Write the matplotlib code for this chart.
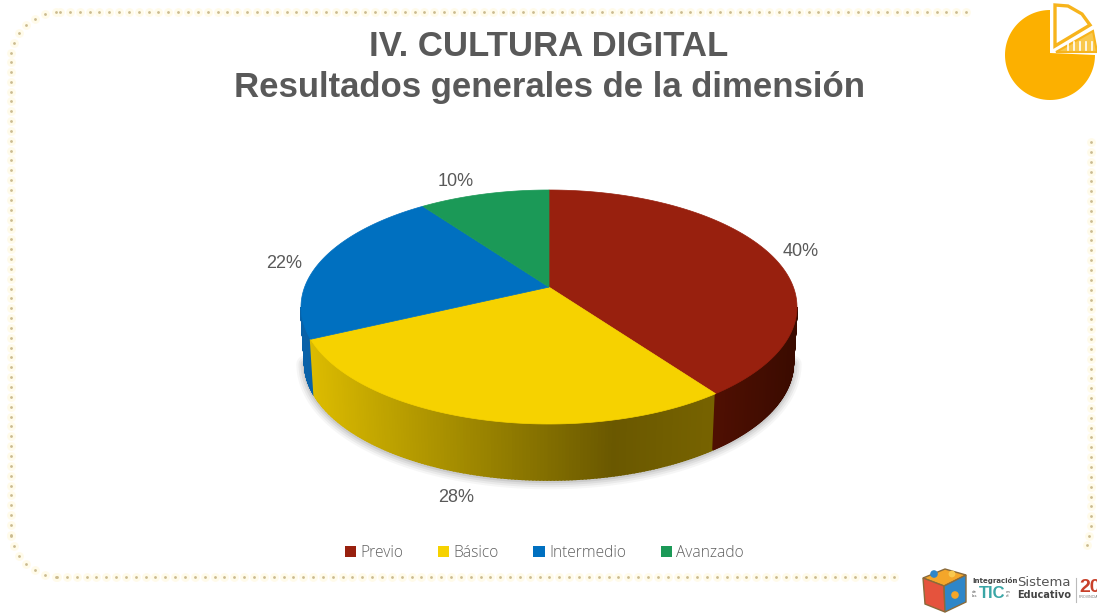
import matplotlib

matplotlib.use('Agg')
import matplotlib.pyplot as plt
from matplotlib.patches import Patch, Polygon
from matplotlib.colors import to_rgb
import numpy as np

categories = ['Previo', 'Básico', 'Intermedio', 'Avanzado']
values = [40, 28, 22, 10]

title_lines = ['IV. CULTURA DIGITAL', 'Resultados generales de la dimensión']

top_colors = ['#98200e', '#f6d200', '#0070c0', '#1b9957']
# colours of the side wall, read left to right
rim_colors = {
    0: ['#4f0f02', '#3a0b00'],
    1: ['#dcbb00', '#b59b00', '#8f7a00', '#6a5800', '#776300'],
    2: ['#0a62a8', '#0a62a8'],
    3: ['#14703f', '#14703f'],
}

# layout of the pie, in pixels of the slide
cx, cy = 549, 307
rx, ry = 248, 117
depth = 56
persp = 0.17  # the apex sits above the ellipse centre

fig = plt.figure(figsize=(10.97, 6.14), dpi=100)
ax = fig.add_axes([0, 0, 1, 1])
ax.set_xlim(0, 1097)
ax.set_ylim(614, 0)
ax.axis('off')


def to_disc(deg):
    # clockwise from the top, pushed through the perspective
    a = np.radians(deg)
    u, v = np.sin(a), np.cos(a)
    k = np.sqrt(1 - persp ** 2)
    return u * k / (1 + persp * v), (v + persp) / (1 + persp * v)


def top_xy(deg):
    u, v = to_disc(deg)
    return cx + rx * u, cy - ry * v


def ellipse_phi(deg):
    u, v = to_disc(deg)
    return np.degrees(np.arctan2(u, v)) % 360


def low_xy(phi):
    a = np.radians(phi)
    return cx + 0.985 * rx * np.sin(a), cy + depth - ry * np.cos(a)


def ramp(colors, f):
    colors = np.array([to_rgb(c) for c in colors])
    pos = np.linspace(0, 1, len(colors))
    return [np.interp(f, pos, colors[:, i]) for i in range(3)]


# soft shadow under the wall
phi_low = np.linspace(90, 270, 120)
sx, sy = low_xy(phi_low)
for w, al in zip([12, 9, 6, 3], [0.05, 0.07, 0.09, 0.12]):
    ax.plot(sx, sy + 1, color='#555555', lw=w, alpha=al, solid_capstyle='round', zorder=1)

cum = np.concatenate([[0], np.cumsum(values)]) * 360.0 / sum(values)

# side wall, only the part facing the viewer
for i in range(len(values)):
    p0, p1 = ellipse_phi(cum[i]), ellipse_phi(cum[i + 1])
    if i == len(values) - 1:
        p1 = 360
    lo, hi = max(p0, 90), min(p1, 270)
    if hi <= lo:
        continue
    steps = np.linspace(lo, hi, 140)
    xs = cx + rx * np.sin(np.radians(steps))
    for j in range(len(steps) - 1):
        ta = np.radians(steps[j:j + 2])
        x_top = cx + rx * np.sin(ta)
        y_top = cy - ry * np.cos(ta)
        x_low, y_low = low_xy(steps[j:j + 2])
        f = (xs[j] - xs.min()) / (xs.max() - xs.min())
        col = ramp(rim_colors[i], f)
        ax.fill([x_top[0], x_top[1], x_low[1], x_low[0]],
                [y_top[0], y_top[1], y_low[1], y_low[0]],
                fc=col, ec=col, lw=1.2, zorder=2 + 0.001 * j)

# top face
apex = (cx, cy - ry * persp)
for i in range(len(values)):
    px, py = top_xy(np.linspace(cum[i], cum[i + 1], 120))
    pts = [apex] + list(zip(px, py))
    ax.add_patch(Polygon(pts, closed=True, fc=top_colors[i], ec=top_colors[i],
                         lw=0.5, zorder=3))

# data labels
label_xy = [(801, 252), (456, 497), (284, 263), (456, 182)]
for v, (lx, ly) in zip(values, label_xy):
    ax.text(lx, ly, f'{v}%', ha='center', va='center', fontsize=13,
            family='Liberation Sans', color='#595959', zorder=5)

# title
ax.text(549, 47, title_lines[0], ha='center', va='center', fontsize=25,
        family='Liberation Sans', weight='bold', color='#595959')
ax.text(550, 87, title_lines[1], ha='center', va='center', fontsize=25,
        family='Liberation Sans', weight='bold', color='#595959')

# legend
handles = [Patch(fc=c, ec='none', label=n) for c, n in zip(top_colors, categories)]
ax.legend(handles=handles, ncol=4, frameon=False, loc='center',
          bbox_to_anchor=(544.5 / 1097, 1 - 553 / 614),
          prop={'family': 'Open Sans', 'size': 11.2, 'weight': 'light'},
          labelcolor='#5f5f5f', handlelength=0.72, handleheight=0.72,
          handletextpad=0.3, columnspacing=2.2)


# dotted frame
def dots(xs, ys):
    ax.scatter(xs, ys, s=40, color='#fffbea', lw=0, zorder=0)
    ax.scatter(xs, ys, s=4, color='#cbbb8f', lw=0, zorder=1)


corner = 50
xx = np.arange(60, 968, 9.85)
dots(xx, np.full(len(xx), 12))
ang = np.radians(np.arange(10, 90, 12.5))
dots(60 - corner * np.cos(ang), 62 - corner * np.sin(ang))
yy = np.arange(62, 535, 9.85)
dots(np.full(len(yy), 10.5), yy)
dots(60 - corner * np.cos(ang), 527 + corner * np.sin(ang))
xx = np.arange(57, 898, 9.85)
dots(xx, np.full(len(xx), 577))
yy = np.arange(142, 536, 9.85)
dots(np.full(len(yy), 1090.5), yy)
dots([1089, 1087], [536, 545])

# corner icon
t = np.radians(np.linspace(0, 270, 100))
ax.add_patch(Polygon([(1050, 53)] + list(zip(1050 + 45 * np.cos(t), 55 + 45 * np.sin(t))),
                     closed=True, fc='#fcb000', ec='none', zorder=3))
ax.add_patch(Polygon([(1055, 46), (1055, 5), (1068, 6), (1082, 14), (1090, 25)], closed=True,
                     fc='white', ec='#f7b41c', lw=2.4, zorder=4))
ax.add_patch(Polygon([(1056, 52), (1093, 31), (1097, 52)], closed=True,
                     fc='#f9c84e', ec='#f7b41c', lw=1.5, zorder=4))
for sx_ in [1068, 1074, 1080, 1086, 1092]:
    ax.plot([sx_, sx_], [42, 50], color='white', lw=1.2, zorder=5)

# logo
ax.add_patch(Polygon([(923, 578), (945, 569), (966, 575), (944, 586)], closed=True,
                     fc='#f4a62a', ec='#8a6a3a', lw=1, zorder=3))
ax.add_patch(Polygon([(923, 578), (944, 586), (945, 612), (925, 604)], closed=True,
                     fc='#e5533d', ec='#8a6a3a', lw=1, zorder=3))
ax.add_patch(Polygon([(944, 586), (966, 575), (966, 602), (945, 612)], closed=True,
                     fc='#2e86c8', ec='#8a6a3a', lw=1, zorder=3))
ax.scatter([934, 952, 955], [574, 574, 595], s=[30, 24, 30],
           color=['#2e86c8', '#f9c84e', '#f4a62a'], lw=0, zorder=4)
ax.text(972, 581, 'Integración', fontsize=5, family='DejaVu Sans', weight='bold',
        color='#444444', va='center', ha='left')
ax.text(972, 594, 'de\nlas', fontsize=2.8, family='DejaVu Sans', color='#555555',
        va='center', ha='left', linespacing=1)
ax.text(979, 594, 'TIC', fontsize=12, family='Liberation Sans', weight='bold',
        color='#3aa6a6', va='center', ha='left')
ax.text(1006, 594, 'en\nel', fontsize=2.8, family='DejaVu Sans', color='#555555',
        va='center', ha='left', linespacing=1)
ax.text(1017, 582, 'Sistema', fontsize=9.5, family='DejaVu Sans', color='#555555',
        va='center', ha='left')
ax.text(1017, 595, 'Educativo', fontsize=7, family='DejaVu Sans', weight='bold',
        color='#444444', va='center', ha='left')
ax.plot([1076, 1076], [578, 602], color='#bbbbbb', lw=0.8)
ax.text(1079, 587, '20', fontsize=14, family='Liberation Sans', weight='bold',
        color='#c8402a', va='center', ha='left', clip_on=True)
ax.text(1079, 597, 'PROVINCIA', fontsize=2.6, family='Liberation Sans', color='#777777',
        va='center', ha='left', clip_on=True)

fig.savefig('out.png', dpi=100)
